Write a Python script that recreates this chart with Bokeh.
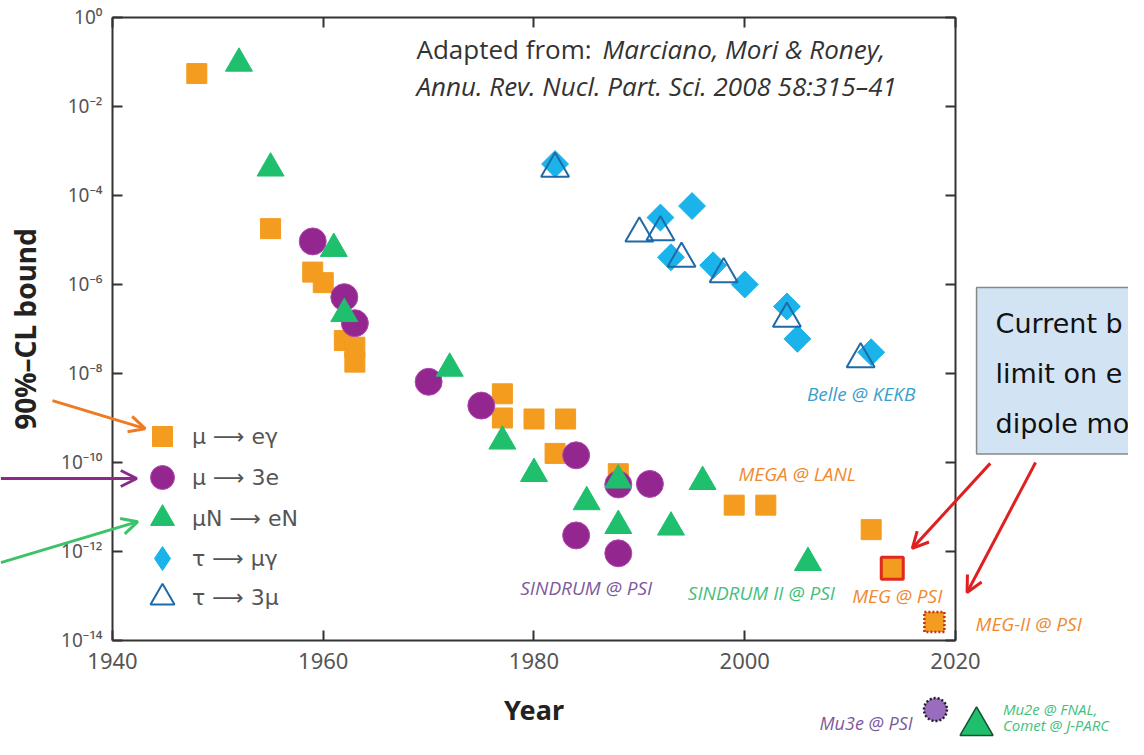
from bokeh.plotting import figure
from bokeh.models import (Range1d, FixedTicker, LinearAxis, LogAxis, Legend, LegendItem, Label,
                          Arrow, OpenHead, CustomJSTickFormatter)
from bokeh.embed import file_html
from bokeh.resources import INLINE

# ---------------- data ----------------
x_ticks = [1940, 1960, 1980, 2000, 2020]
y_ticks = [1e0, 1e-2, 1e-4, 1e-6, 1e-8, 1e-10, 1e-12, 1e-14]

mueg_year = [1948, 1955, 1959, 1960, 1962, 1963, 1963, 1977, 1977, 1980, 1983, 1982, 1988, 1999, 2002, 2012]
mueg_bound = [5.5e-2, 1.8e-5, 1.9e-6, 1.1e-6, 5.5e-8, 3.9e-8, 1.8e-8, 3.5e-9, 1.0e-9, 9.5e-10, 9.5e-10,
              1.6e-10, 5.6e-11, 1.1e-11, 1.1e-11, 3.1e-12]
meg_year = [2014]
meg_bound = [4.2e-13]
megii_year = [2018]
megii_bound = [2.6e-14]

mu3e_year = [1959, 1962, 1963, 1970, 1975, 1984, 1984, 1988, 1988, 1991]
mu3e_bound = [9.3e-6, 5.2e-7, 1.35e-7, 6.5e-9, 1.9e-9, 1.45e-10, 2.3e-12, 3.2e-11, 9.1e-13, 3.3e-11]

muN_year = [1952, 1955, 1961, 1962, 1972, 1977, 1980, 1985, 1988, 1988, 1993, 1996, 2006]
muN_bound = [9.3e-2, 4.1e-4, 6.4e-6, 2.2e-7, 1.3e-8, 3.0e-10, 5.6e-11, 1.3e-11, 4.0e-11, 3.8e-12,
             3.5e-12, 3.7e-11, 5.6e-13]

taumug_year = [1982, 1992, 1995, 1993, 1997, 2000, 2004, 2005, 2012]
taumug_bound = [5.1e-4, 3.2e-5, 5.8e-5, 4.1e-6, 2.7e-6, 1.0e-6, 3.2e-7, 6.0e-8, 3.0e-8]

tau3mu_year = [1982, 1990, 1992, 1994, 1998, 2004, 2011]
tau3mu_bound = [4.0e-4, 1.4e-5, 1.5e-5, 3.8e-6, 1.7e-6, 1.7e-7, 2.1e-8]

# projected sensitivities (drawn below the frame, as in the original slide)
mu3e_future_year = [2018.1]
mu3e_future_bound = [2.8e-16]
mu2e_future_year = [2022.0]
mu2e_future_bound = [1.2e-16]

legend_labels = ["\u03bc \u27f6 e\u03b3", "\u03bc \u27f6 3e", "\u03bcN \u27f6 eN",
                 "\u03c4 \u27f6 \u03bc\u03b3", "\u03c4 \u27f6 3\u03bc"]

# ---------------- colours / fonts ----------------
C_OR = "#f39c1f"
C_PU = "#93278f"
C_GR = "#1fbf6e"
C_CY = "#1ab3ea"
C_BL = "#1f69a8"
FONT = "Noto Sans"

W, H = 1128, 739
# frame covers the whole canvas; axes are pinned at 1940 / 2020 and 1e-14 / 1e0
p = figure(width=W, height=H, x_range=Range1d(1929.37, 2036.42),
           y_range=Range1d(10 ** -16.225, 10 ** 0.382),
           y_axis_type="log", output_backend="svg", toolbar_location=None,
           min_border=0, min_border_left=0, min_border_right=0, min_border_top=0, min_border_bottom=0)
p.grid.visible = False
p.outline_line_color = None
p.background_fill_color = "white"
p.border_fill_color = "white"

xt = FixedTicker(ticks=x_ticks, minor_ticks=[])
yt = FixedTicker(ticks=y_ticks, minor_ticks=[])
fmt = CustomJSTickFormatter(code="""
const e = Math.round(Math.log10(tick));
const sup = {'-':'\u207b','0':'\u2070','1':'\u00b9','2':'\u00b2','3':'\u00b3','4':'\u2074',
             '5':'\u2075','6':'\u2076','7':'\u2077','8':'\u2078','9':'\u2079'};
return '10' + String(e).split('').map(c => sup[c]).join('');
""")
blank = CustomJSTickFormatter(code="return '';")

AX = dict(major_tick_in=10, major_tick_out=0, minor_tick_in=0, minor_tick_out=0,
          axis_line_color="#333333", axis_line_width=2, major_tick_line_color="#333333",
          major_tick_line_width=2)

xa = p.xaxis[0]
xa.ticker = xt
for k, v in AX.items():
    setattr(xa, k, v)
xa.fixed_location = y_ticks[-1]
xa.bounds = (x_ticks[0], x_ticks[-1])
xa.major_label_text_font = FONT
xa.major_label_text_font_size = "22px"
xa.major_label_text_color = "#555555"
xa.major_label_standoff = 13
xa.axis_label = "Year"
xa.axis_label_text_font = FONT
xa.axis_label_text_font_style = "bold"
xa.axis_label_text_font_size = "27px"
xa.axis_label_text_color = "#222222"
xa.axis_label_standoff = 18

ya = p.yaxis[0]
ya.ticker = yt
ya.formatter = fmt
for k, v in AX.items():
    setattr(ya, k, v)
ya.fixed_location = x_ticks[0]
ya.bounds = (y_ticks[-1], y_ticks[0])
ya.major_label_text_font = FONT
ya.major_label_text_font_size = "19px"
ya.major_label_text_color = "#555555"
ya.major_label_standoff = 10
ya.axis_label = "90%\u2013CL bound"
ya.axis_label_text_font = FONT
ya.axis_label_text_font_style = "bold"
ya.axis_label_text_font_size = "28px"
ya.axis_label_text_color = "#222222"
ya.axis_label_standoff = 14

top = LinearAxis(ticker=xt, formatter=blank, fixed_location=y_ticks[0],
                 bounds=(x_ticks[0], x_ticks[-1]), major_label_standoff=0, **AX)
p.add_layout(top, "above")
right = LogAxis(ticker=yt, formatter=blank, fixed_location=x_ticks[-1],
                bounds=(y_ticks[-1], y_ticks[0]), major_label_standoff=0, **AX)
p.add_layout(right, "right")

# ---------------- data markers ----------------
r_eg = p.scatter(mueg_year, mueg_bound, marker="square", size=20, fill_color=C_OR, line_color=C_OR)
r_3e = p.scatter(mu3e_year, mu3e_bound, marker="circle", size=27, fill_color=C_PU, line_color="#b04ab0")
r_mn = p.scatter(muN_year, muN_bound, marker="triangle", size=27, fill_color=C_GR, line_color=C_GR)
# diamond glyph used for the legend entry; it lies fully inside the rotated squares drawn on top
r_tg = p.scatter(taumug_year, taumug_bound, marker="diamond", size=20, fill_color=C_CY, line_color=C_CY)
p.scatter(taumug_year, taumug_bound, marker="square", angle=0.785398, size=19,
          fill_color=C_CY, line_color=C_CY)
r_t3 = p.scatter(tau3mu_year, tau3mu_bound, marker="triangle", size=28, fill_color=None,
                 line_color=C_BL, line_width=2)
p.scatter(meg_year, meg_bound, marker="square", size=22, fill_color=C_OR, line_color="#e02a1e", line_width=3)
p.scatter(megii_year, megii_bound, marker="square", size=20, fill_color=C_OR, line_color="#c0321e",
          line_width=2.5, line_dash="2 2")
p.scatter(mu3e_future_year, mu3e_future_bound, marker="circle", size=23, fill_color="#9a6cc0",
          line_color="#222222", line_width=2.5, line_dash="2 2")
p.scatter(mu2e_future_year, mu2e_future_bound, marker="triangle", size=33, fill_color=C_GR,
          line_color="#17502f", line_width=1.5)

# ---------------- legend (one entry per legend so marker sizes can differ) ----------------
leg_centers = [436, 477, 518, 558, 597]
leg_sizes = [50, 60, 60, 60, 60]
for labl, r, cy, S in zip(legend_labels, [r_eg, r_3e, r_mn, r_tg, r_t3], leg_centers, leg_sizes):
    p.add_layout(Legend(items=[LegendItem(label=labl, renderers=[r])],
                        location=(162 - S / 2, H - cy - S / 2), glyph_width=S, glyph_height=S,
                        label_height=S, spacing=0, padding=0, margin=0, label_standoff=int(30 - S / 2),
                        border_line_color=None, background_fill_alpha=0,
                        label_text_font="DejaVu Sans", label_text_font_size="22px",
                        label_text_color="#555555"))

# ---------------- text annotations ----------------
def lab(x, y, text, color, size="19px", style="italic", font="Open Sans", baseline="middle", **kw):
    p.add_layout(Label(x=x, y=y, text=text, text_color=color, text_font_size=size,
                       text_font_style=style, text_font=font, text_align="left",
                       text_baseline=baseline, **kw))

lab(2005.9, 10 ** -8.45, "Belle @ KEKB", "#3aa0cc")
lab(1999.4, 10 ** -10.25, "MEGA @ LANL", "#f08a30")
lab(1978.7, 10 ** -12.81, "SINDRUM @ PSI", "#7d5a9c")
lab(1994.6, 10 ** -12.94, "SINDRUM II @ PSI", "#44c07c")
lab(2010.2, 10 ** -13.01, "MEG @ PSI", "#f08a30")
lab(2021.9, 10 ** -13.62, "MEG-II @ PSI", "#f08a30")
lab(2007.1, 10 ** -15.86, "Mu3e @ PSI", "#7d5a9c", size="18px")
lab(2024.5, 10 ** -15.53, "Mu2e @ FNAL,", "#44c07c", size="15px")
lab(2024.5, 10 ** -15.91, "Comet @ J-PARC", "#44c07c", size="15px")

lab(1968.85, 10 ** -0.71, "Adapted from:", "#333333", size="26px", style="normal")
lab(1986.5, 10 ** -0.71, "Marciano, Mori & Roney,", "#333333", size="26px")
lab(1968.85, 10 ** -1.55, "Annu. Rev. Nucl. Part. Sci. 2008 58:315\u201341", "#333333", size="26px")

p.add_layout(Label(x=2022.0, y=10 ** -6.07, text="Current b\nlimit on e\ndipole mo",
                   text_font="DejaVu Sans", text_font_size="27px", text_color="#111111",
                   text_line_height=1.62, text_align="left", text_baseline="top",
                   padding=dict(left=19, right=30, top=20, bottom=15),
                   background_fill_color="#d2e4f4", border_line_color="#888888", border_line_width=1.5))

# ---------------- arrows ----------------
def arrow(x0, y0, x1, y1, color):
    p.add_layout(Arrow(x_start=x0, y_start=y0, x_end=x1, y_end=y1, line_color=color, line_width=3,
                       end=OpenHead(size=16, line_color=color, line_width=3)))

arrow(1934.3, 10 ** -8.61, 1943.1, 10 ** -9.24, "#f07a22")
arrow(1929.4, 10 ** -10.36, 1942.3, 10 ** -10.36, "#8b2a8b")
arrow(1929.4, 10 ** -12.25, 1942.4, 10 ** -11.33, "#3cc36a")
arrow(2023.3, 10 ** -10.02, 2015.9, 10 ** -11.93, "#e02020")
arrow(2027.6, 10 ** -10.0, 2021.1, 10 ** -12.92, "#e02020")

open("out.html", "w").write(file_html(p, INLINE))
